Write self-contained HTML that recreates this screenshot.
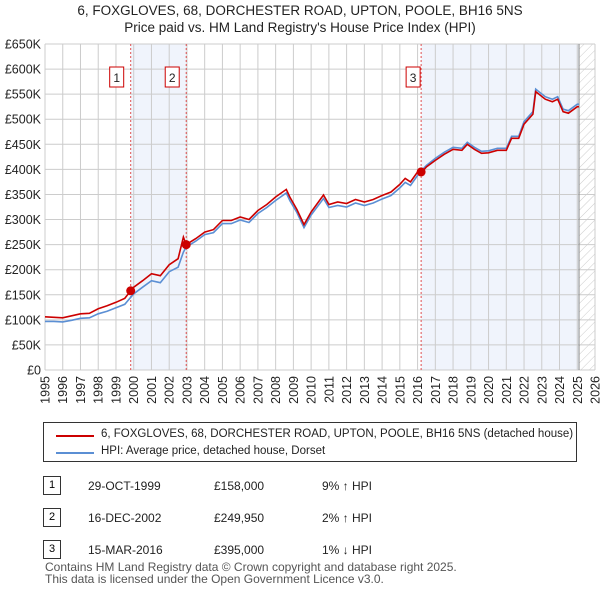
<!DOCTYPE html>
<html><head><meta charset="utf-8"><style>
body{margin:0;background:#fff;font-family:"Liberation Sans","DejaVu Sans",sans-serif;}
#wrap{position:relative;width:600px;height:590px;overflow:hidden}
.t{position:absolute;font-size:12.5px;color:#222;white-space:nowrap}
</style></head><body><div id="wrap">
<svg id="chart" width="600" height="420" style="position:absolute;left:0;top:0">
<text x="300" y="15" text-anchor="middle" font-size="13.5" fill="#222">6, FOXGLOVES, 68, DORCHESTER ROAD, UPTON, POOLE, BH16 5NS</text>
<text x="300" y="32" text-anchor="middle" font-size="13.5" fill="#222">Price paid vs. HM Land Registry's House Price Index (HPI)</text>
<defs><pattern id="hatch" width="6" height="6" patternUnits="userSpaceOnUse" patternTransform="rotate(45)"><line x1="0" y1="0" x2="0" y2="6" stroke="#ccc" stroke-width="1"/></pattern></defs>
<g id="grid"></g><g id="marks"></g>
</svg>
<div style="position:absolute;left:43px;top:422px;width:534px;height:40px;border:1px solid #333;box-sizing:border-box">
 <div style="position:absolute;left:12px;top:12px;width:38px;height:2px;background:#cc0000"></div>
 <div class="t" style="left:57px;top:5px;font-size:11.5px">6, FOXGLOVES, 68, DORCHESTER ROAD, UPTON, POOLE, BH16 5NS (detached house)</div>
 <div style="position:absolute;left:12px;top:29px;width:38px;height:2px;background:#5b8fd4"></div>
 <div class="t" style="left:57px;top:22px;font-size:11.5px">HPI: Average price, detached house, Dorset</div>
</div>
<div id="rows"></div>
<div class="t" style="left:45px;top:561px;font-size:12px;color:#555;line-height:12px">Contains HM Land Registry data © Crown copyright and database right 2025.<br>This data is licensed under the Open Government Licence v3.0.</div>
</div>
<script>
const years=[1995,1995.5,1996,1996.5,1997,1997.5,1998,1998.5,1999,1999.5,1999.83,2000,2000.5,2001,2001.5,2002,2002.5,2002.8,2002.96,2003.5,2004,2004.5,2005,2005.5,2006,2006.5,2007,2007.5,2008,2008.6,2008.8,2009.2,2009.6,2010,2010.7,2011,2011.5,2012,2012.5,2013,2013.5,2014,2014.5,2015,2015.3,2015.6,2016,2016.2,2016.5,2017,2017.5,2018,2018.5,2018.8,2019.2,2019.6,2020,2020.5,2021,2021.3,2021.7,2022,2022.5,2022.66,2023.2,2023.6,2023.9,2024.2,2024.5,2025,2025.1];
const pricePaid=[106,105,104,108,112,113,122,128,135,143,158,165,178,192,188,210,222,265,250,262,275,280,298,298,305,300,318,330,345,360,345,320,290,315,349,330,335,332,340,335,340,348,355,370,382,375,395,393,405,418,430,440,438,450,440,432,433,438,438,462,462,490,510,555,540,535,540,515,512,525,525];
const hpi=[97,97,96,99,103,104,112,117,124,131,145,152,165,178,174,196,205,235,245,257,270,274,292,292,299,294,312,324,338,353,338,314,284,309,342,324,328,325,333,328,333,341,348,363,374,368,388,397,408,422,434,444,442,454,444,436,437,442,442,466,466,495,515,560,545,540,545,520,517,530,530];
const yTicks=[0,50,100,150,200,250,300,350,400,450,500,550,600,650];
const xTicks=[1995,1996,1997,1998,1999,2000,2001,2002,2003,2004,2005,2006,2007,2008,2009,2010,2011,2012,2013,2014,2015,2016,2017,2018,2019,2020,2021,2022,2023,2024,2025,2026];
const saleYears=[1999.83,2002.96,2016.2];
const salePrices=[158,249.95,395];
const saleLabels=["1","2","3"];
const saleDates=["29-OCT-1999","16-DEC-2002","15-MAR-2016"];
const salePriceText=["£158,000","£249,950","£395,000"];
const saleHpiText=["9% ↑ HPI","2% ↑ HPI","1% ↓ HPI"];
const x0=45,x1=595,y0=370,y1=44;
const X=v=>x0+(v-1995)/(2026-1995)*(x1-x0);
const Y=v=>y0-v/650*(y0-y1);
const NS="http://www.w3.org/2000/svg";
function mk(p,tag,at){const e=document.createElementNS(NS,tag);for(const k in at)e.setAttribute(k,at[k]);p.appendChild(e);return e;}
const g=document.getElementById('grid'),m=document.getElementById('marks');
let e;
e=mk(g,'rect',{x:X(saleYears[0]),y:y1,width:X(saleYears[1])-X(saleYears[0]),height:y0-y1,fill:'#f0f4fc'});

e=mk(g,'rect',{x:X(saleYears[2]),y:y1,width:X(2025.1)-X(saleYears[2]),height:y0-y1,fill:'#f0f4fc'});

e=mk(g,'rect',{x:X(2025.1),y:y1,width:x1-X(2025.1),height:y0-y1,fill:'url(#hatch)'});

yTicks.forEach(v=>{mk(g,'line',{x1:x0,x2:x1,y1:Y(v),y2:Y(v),stroke:'#ccc'});
 e=mk(g,'text',{x:x0-4,y:Y(v)+4.5,'text-anchor':'end','font-size':12.5,fill:'#222'});e.textContent=v==0?'£0':'£'+v+'K';
 });
xTicks.forEach(v=>{mk(g,'line',{x1:X(v),x2:X(v),y1:y1,y2:y0,stroke:'#ccc'});
 e=mk(g,'text',{transform:`translate(${X(v)+4.5},${y0+6}) rotate(-90)`,'text-anchor':'end','font-size':12.5,fill:'#222'});e.textContent=v;
 });
mk(g,'line',{x1:X(2025.1),x2:X(2025.1),y1:y1,y2:y0,stroke:'#888'});
saleYears.forEach((s,i)=>{e=mk(g,'line',{x1:X(s),x2:X(s),y1:y1,y2:y0,stroke:'#e05050','stroke-dasharray':'2,2'});
 
 const bx=X(s)-(i==2?9:15);
 e=mk(g,'rect',{x:bx-6,y:67,width:14,height:20,fill:'#fff',stroke:'#c00'});
 
 e=mk(g,'text',{x:bx+1,y:82,'text-anchor':'middle','font-size':12,fill:'#222'});e.textContent=saleLabels[i];});
function line(arr,col,name){const d=arr.map((v,i)=>(i?'L':'M')+X(years[i]).toFixed(1)+','+Y(v).toFixed(1)).join('');
 e=mk(m,'path',{d,fill:'none',stroke:col,'stroke-width':1.6});}
line(hpi,'#5b8fd4','hpi-line');line(pricePaid,'#cc0000','price-paid-line');
saleYears.forEach((s,i)=>{e=mk(m,'circle',{cx:X(s),cy:Y(salePrices[i]),r:4.5,fill:'#cc0000'});
 });
const rows=document.getElementById('rows');
saleDates.forEach((d,i)=>{const top=476+i*32;
 const r=document.createElement('div');r.style.cssText=`position:absolute;left:0;top:${top}px;width:600px;height:20px`;
 
 r.innerHTML=`<div style="position:absolute;left:43px;top:0;width:18px;height:19px;border:1px solid #333;box-sizing:border-box;font-size:11px;text-align:center;line-height:17px">${saleLabels[i]}</div>
 <div class="t" style="left:88px;top:3px;font-size:12px">${d}</div><div class="t" style="left:214px;top:3px;font-size:12px">${salePriceText[i]}</div><div class="t" style="left:322px;top:3px;font-size:12px">${saleHpiText[i]}</div>`;
 rows.appendChild(r);});
</script></body></html>
